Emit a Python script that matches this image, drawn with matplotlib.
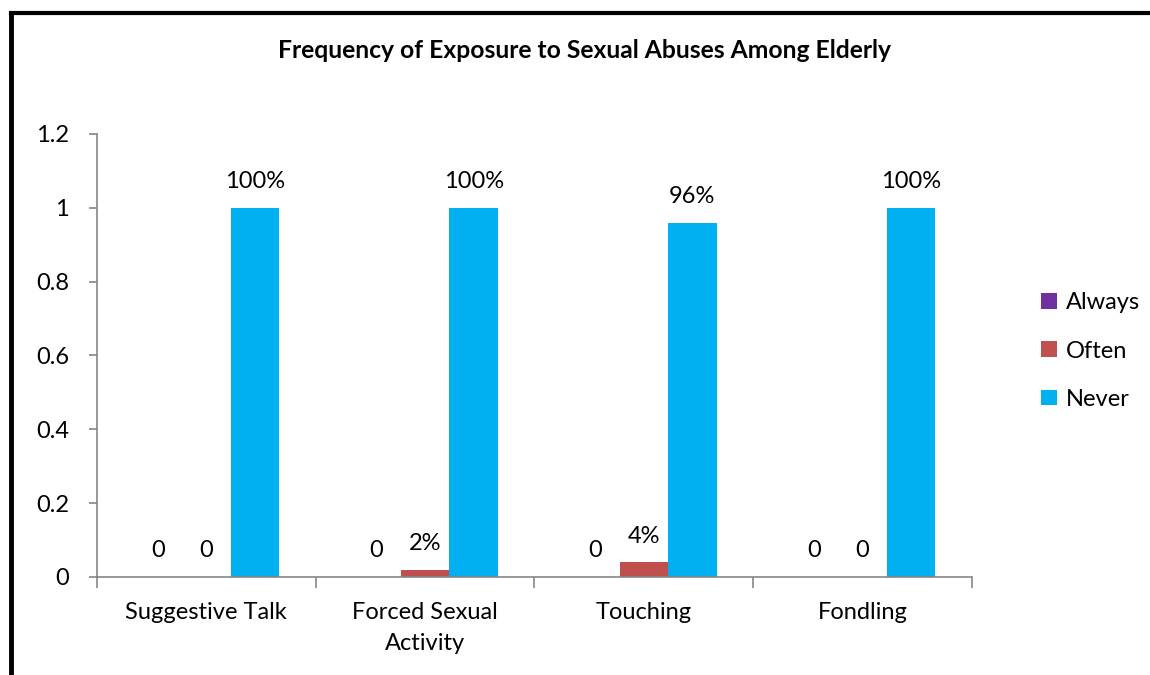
"""Grouped bar chart: frequency of exposure to sexual abuses among elderly."""
import matplotlib
matplotlib.use("Agg")
import matplotlib.pyplot as plt
from matplotlib.lines import Line2D
import numpy as np

CATEGORIES = ["Suggestive Talk", "Forced Sexual\nActivity", "Touching", "Fondling"]
ALWAYS = [0, 0, 0, 0]
OFTEN = [0, 0.02, 0.04, 0]
NEVER = [1.0, 1.0, 0.96, 1.0]

SERIES = [("Always", ALWAYS, "#7030A0"),
          ("Often", OFTEN, "#C0504D"),
          ("Never", NEVER, "#00B0F0")]

plt.rcParams["font.family"] = ["Lato", "DejaVu Sans"]
AXIS_GREY = "#868686"
FS = 17


def label_for(v):
    return "0" if v == 0 else f"{v * 100:.0f}%"


fig = plt.figure(figsize=(11.5, 6.75), dpi=100)
ax = fig.add_axes([0.0843, 0.1452, 0.7609, 0.6563])

x = np.arange(len(CATEGORIES))
w = 0.222
for i, (name, vals, color) in enumerate(SERIES):
    pos = x + (i - 1) * w
    ax.bar(pos, vals, width=w, color=color, label=name)
    for px, v in zip(pos, vals):
        ax.annotate(label_for(v), (px, v), xytext=(0, 26), textcoords="offset pixels",
                    ha="center", va="center", fontsize=FS)

ax.set_xlim(-0.5, len(CATEGORIES) - 0.5)
ax.set_ylim(0, 1.2)
ax.set_yticks([0, 0.2, 0.4, 0.6, 0.8, 1.0, 1.2])
ax.set_yticklabels(["0", "0.2", "0.4", "0.6", "0.8", "1", "1.2"])

# category labels centred, ticks on the boundaries between groups
ax.set_xticks(x)
ax.set_xticklabels(CATEGORIES, linespacing=1.6)
ax.set_xticks(np.arange(-0.5, len(CATEGORIES)), minor=True)
ax.tick_params(axis="x", which="major", length=0, pad=18, labelsize=FS)
ax.tick_params(axis="x", which="minor", length=8, color=AXIS_GREY, width=1.2)
ax.tick_params(axis="y", length=6, color=AXIS_GREY, width=1.2, pad=14, labelsize=FS)

for side in ("top", "right"):
    ax.spines[side].set_visible(False)
for side in ("left", "bottom"):
    ax.spines[side].set_color(AXIS_GREY)
    ax.spines[side].set_linewidth(1.2)

ax.legend(loc="center left", bbox_to_anchor=(1.055, 0.51), frameon=False,
          fontsize=FS, handlelength=0.65, handleheight=0.65, handletextpad=0.4,
          labelspacing=1.15)

fig.text(0.508, 0.925, "Frequency of Exposure to Sexual Abuses Among Elderly",
         ha="center", va="center", fontsize=17.7, fontweight="bold")

# outer chart frame (top and left edges)
fig.add_artist(Line2D([0.0096, 1.0], [0.9807, 0.9807], color="black", lw=3,
                      transform=fig.transFigure))
fig.add_artist(Line2D([0.0096, 0.0096], [0.0, 0.9807], color="black", lw=3.5,
                      transform=fig.transFigure))

fig.savefig("out.png", dpi=100)
